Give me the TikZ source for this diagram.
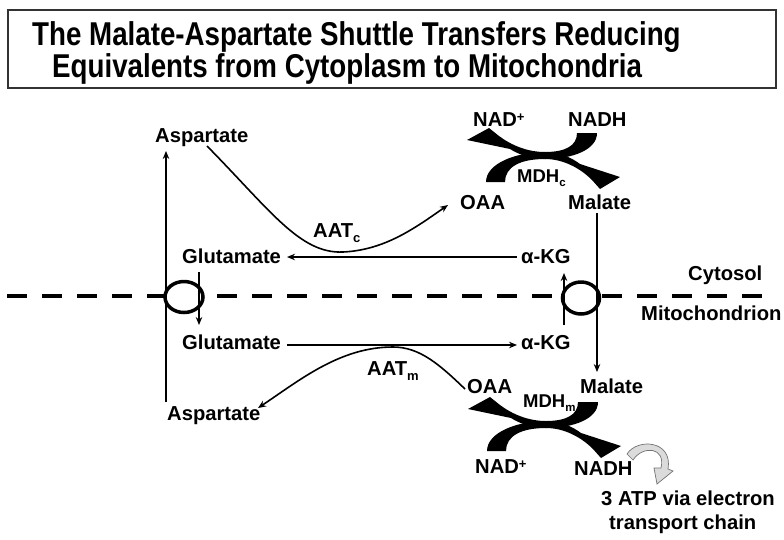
\documentclass[tikz,border=0pt]{standalone}
\usepackage{fontspec}
\setmainfont{Liberation Sans}
\newfontfamily\titlefont[FakeStretch=0.84]{Liberation Sans}
\usetikzlibrary{arrows.meta,shapes.geometric}
\newcommand{\sbx}[1]{\raisebox{-5pt}{\fontsize{13}{13}\selectfont #1}}
\newcommand{\sbs}[1]{\raisebox{-4pt}{\fontsize{11.5}{11.5}\selectfont #1}}
\newcommand{\spx}[1]{\raisebox{5pt}{\fontsize{13}{13}\selectfont #1}}
\begin{document}
\begin{tikzpicture}[x=1pt,y=-1pt,
  lbl/.style={inner sep=0pt, anchor=base west, font=\fontsize{20.2}{22}\selectfont\bfseries},
  mdhl/.style={inner sep=0pt, anchor=base west, font=\fontsize{18.5}{20}\selectfont\bfseries},
  ttl/.style={inner sep=0pt, anchor=base west, font=\titlefont\fontsize{33}{36}\selectfont\bfseries},
  conn/.style={line width=1.6pt, -{Stealth[length=8pt,width=6.5pt]}},
  memb/.style={line width=4.5pt, dash pattern=on 20pt off 15pt},
  chan/.style={ellipse, draw=black, line width=3.5pt, fill=white, inner sep=0pt},
  mdhpair/.pic={
    % cup: NADH -> NAD+ (tail top right, head top left)
    \fill (577,133) -- (597,133) .. controls (597,150) and (572,159) .. (545,159)
      .. controls (530,159) and (518,154) .. (510,149) -- (467,140) -- (489,128) -- (499,136)
      .. controls (511,145) and (527,152) .. (545,152)
      .. controls (565,152) and (577,146) .. (577,133) -- cycle;
    % cap: OAA -> Malate (tail bottom left, head bottom right)
    \fill (486,182) .. controls (486,163) and (517,152) .. (545,152)
      .. controls (560,152) and (572,158) .. (580,164) -- (620,177) -- (600,189) -- (592,180)
      .. controls (580,168) and (563,159) .. (545,159)
      .. controls (520,159) and (505,167) .. (505,182) -- cycle;
  },
]
\useasboundingbox (0,0) rectangle (784,539);
\fill[white] (0,0) rectangle (784,539);

% title
\draw[line width=1.3pt, black!80] (8,10) rectangle (776,88);
\node[ttl] (t1) at (32,45) {The Malate-Aspartate Shuttle Transfers Reducing};
\node[ttl] (t2) at (52,77) {Equivalents from Cytoplasm to Mitochondria};

% membrane
\draw[memb] (7,296) -- (770,296);
\node[chan, minimum width=38pt, minimum height=31pt] (chL) at (184,297) {};
\node[chan, minimum width=37pt, minimum height=32pt] (chR) at (581,298) {};

% labels cytosol
\node[lbl] (aspC) at (155,142) {Aspartate};
\node[lbl] (nadC) at (473,126) {NAD\spx{+}};
\node[lbl] (nadhC) at (568,126) {NADH};
\node[mdhl] (mdhC) at (517,182) {MDH\sbs{c}};
\node[lbl] (oaaC) at (460,209) {OAA};
\node[lbl] (malC) at (568,209) {Malate};
\node[lbl] (aatC) at (313,237) {AAT\sbx{c}};
\node[lbl] (gluC) at (182,263) {Glutamate};
\node[lbl] (akgC) at (521,263) {α-KG};
\node[lbl] (cyto) at (688,280) {Cytosol};
\node[lbl] (mito) at (641,320) {Mitochondrion};
% labels mitochondrion
\node[lbl] (gluM) at (182,349) {Glutamate};
\node[lbl] (akgM) at (521,349) {α-KG};
\node[lbl] (aatM) at (367,375) {AAT\sbx{m}};
\node[lbl] (oaaM) at (467,393) {OAA};
\node[lbl] (malM) at (580,393) {Malate};
\node[mdhl] (mdhM) at (523,407) {MDH\sbs{m}};
\node[lbl] (aspM) at (167,420) {Aspartate};
\node[lbl] (nadM) at (475,473) {NAD\spx{+}};
\node[lbl] (nadhM) at (574,475) {NADH};
\node[lbl] (atp1) at (601,505) {3 ATP via electron};
\node[lbl] (atp2) at (609,529) {transport chain};

% connector end points
\coordinate (aspLbot) at (166,402);
\coordinate (aspLtop) at (166,151);
\coordinate (gluIn) at (199,272);
\coordinate (gluOut) at (199,325);
\coordinate (malIn) at (597,213);
\coordinate (malOut) at (597,372);
\coordinate (akgIn) at (564,325);
\coordinate (akgOut) at (564,273);
\coordinate (akgCw) at (517,257);
\coordinate (gluCe) at (287,257);
\coordinate (gluMe) at (287,345);
\coordinate (akgMw) at (517,345);
\coordinate (aspCs) at (207,146);
\coordinate (aatCmin) at (343,252);
\coordinate (oaaCw) at (448,205);
\coordinate (oaaMw) at (465,389);
\coordinate (aatMmax) at (393,347);
\coordinate (aspMe) at (258,408);

% connectors
\draw[conn] (aspLbot) -- (aspLtop);
\draw[conn] (gluIn) -- (gluOut);
\draw[conn] (malIn) -- (malOut);
\draw[conn] (akgIn) -- (akgOut);
\draw[conn] (akgCw) -- (gluCe);
\draw[conn] (gluMe) -- (akgMw);
\draw[conn] (aspCs) .. controls (270,210) and (300,254) .. (aatCmin)
   .. controls (385,250) and (415,228) .. (oaaCw);
\draw[conn] (oaaMw) .. controls (440,365) and (420,347) .. (aatMmax)
   .. controls (340,347) and (300,380) .. (aspMe);

% MDH exchange arrows
\pic at (0,0) {mdhpair};
\pic at (1,269) {mdhpair};

% ATP arrow
\filldraw[fill=black!14, draw=black!55, line width=0.7pt]
  (627,454) .. controls (637,438) and (673,440) .. (668,469) -- (673,471) -- (657,484)
  -- (654,468) -- (661,468) .. controls (666,447) and (643,445) .. (633,460) -- cycle;
\end{tikzpicture}
\end{document}
